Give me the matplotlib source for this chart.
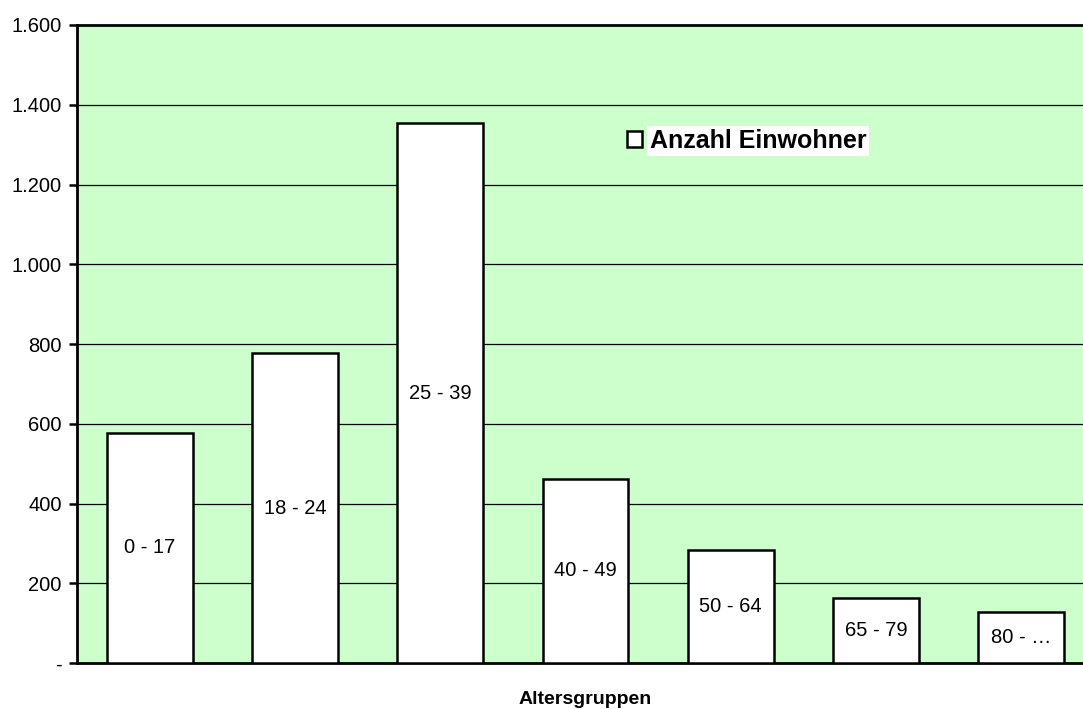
import matplotlib
matplotlib.use("Agg")
import matplotlib.pyplot as plt
from matplotlib.ticker import FuncFormatter

plt.rcParams['font.family'] = ['Liberation Sans', 'DejaVu Sans']

# Altersgruppen und Anzahl Einwohner
groups = ['0 - 17', '18 - 24', '25 - 39', '40 - 49', '50 - 64', '65 - 79', '80 - …']
einwohner = [578, 777, 1354, 462, 284, 162, 127]
yticks = [0, 200, 400, 600, 800, 1000, 1200, 1400, 1600]

fig = plt.figure(figsize=(10.83, 7.09), dpi=100)
ax = fig.add_axes([77 / 1083, 46 / 709, 1017 / 1083, 638 / 709])
ax.set_facecolor('#ccffcc')

x = list(range(len(groups)))
bars = ax.bar(x, einwohner, width=0.59, color='white', edgecolor='black',
              linewidth=1.8, zorder=3, label='Anzahl Einwohner')

for xi, v, g in zip(x, einwohner, groups):
    ax.text(xi, v / 2, g, ha='center', va='center', fontsize=14.5, zorder=4)

ax.set_xlim(-0.5, len(groups) - 0.5)
ax.set_ylim(0, 1600)
ax.set_yticks(yticks)
ax.yaxis.set_major_formatter(FuncFormatter(
    lambda v, p: '-' if v == 0 else f'{int(v):,}'.replace(',', '.')))
ax.set_xticks([])
ax.tick_params(axis='y', direction='out', length=6, width=1.8, labelsize=14.5, pad=5)
ax.grid(axis='y', color='black', linewidth=0.9, zorder=1)
ax.set_axisbelow(True)

for side in ['left', 'top', 'bottom']:
    ax.spines[side].set_linewidth(2)
ax.spines['right'].set_visible(False)

ax.set_xlabel('Altersgruppen', fontsize=14, fontweight='bold', labelpad=20)

leg = ax.legend(loc='center left', bbox_to_anchor=(0.529, 0.818), frameon=False,
                prop={'weight': 'bold', 'size': 18}, borderpad=0,
                handlelength=0.6, handleheight=0.6, handletextpad=0.3)
leg.get_texts()[0].set_bbox(dict(facecolor='white', edgecolor='none', pad=2))

fig.savefig('out.png', dpi=100)
